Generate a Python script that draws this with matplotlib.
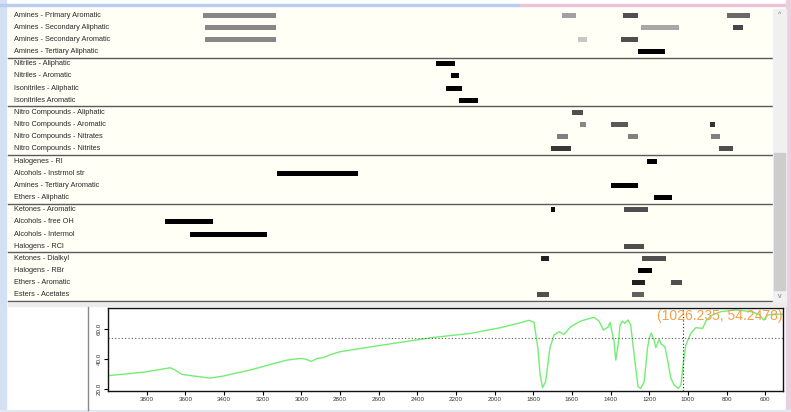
import matplotlib
matplotlib.use("Agg")
import matplotlib.pyplot as plt
from matplotlib.patches import Rectangle
from matplotlib.transforms import blended_transform_factory

plt.rcParams['font.family'] = ['Liberation Sans', 'DejaVu Sans']

# row labels of the correlation table (4 per group)
row_labels = [
    "Amines - Primary Aromatic", "Amines - Secondary Aliphatic",
    "Amines - Secondary Aromatic", "Amines - Tertiary Aliphatic",
    "Nitriles - Aliphatic", "Nitriles - Aromatic",
    "Isonitriles - Aliphatic", "Isonitriles Aromatic",
    "Nitro Compounds - Aliphatic", "Nitro Compounds - Aromatic",
    "Nitro Compounds - Nitrates", "Nitro Compounds - Nitrites",
    "Halogenes - RI", "Alcohols - Instrmol str",
    "Amines - Tertiary Aromatic", "Ethers - Aliphatic",
    "Ketones - Aromatic", "Alcohols - free OH",
    "Alcohols - Intermol", "Halogens - RCl",
    "Ketones - Dialkyl", "Halogens - RBr",
    "Ethers - Aromatic", "Esters - Acetates",
]

# band ranges (cm-1) per row, with strength (0 weak .. 1 strong)
bar_row = [0, 0, 0, 0, 1, 1, 1, 2, 2, 2, 3, 4, 5, 6, 7, 8, 9, 9, 9,
           10, 10, 10, 11, 11, 12, 13, 14, 15, 16, 16, 17, 18, 19,
           20, 20, 21, 22, 22, 23, 23]
bar_hi = [3510, 1650, 1330, 795, 3500, 1240, 760, 3500, 1565, 1340, 1255,
          2300, 2225, 2250, 2180, 1595, 1555, 1395, 880,
          1675, 1305, 875, 1705, 835, 1205, 3125, 1395, 1170, 1705, 1325,
          3705, 3575, 1325, 1755, 1235, 1255, 1285, 1085, 1775, 1285]
bar_lo = [3130, 1575, 1255, 675, 3130, 1040, 710, 3130, 1520, 1255, 1115,
          2200, 2180, 2165, 2085, 1540, 1525, 1305, 855,
          1615, 1255, 830, 1600, 760, 1155, 2705, 1255, 1080, 1685, 1200,
          3455, 3175, 1225, 1715, 1110, 1180, 1220, 1025, 1715, 1225]
bar_strength = [0.47, 0.37, 0.69, 0.59, 0.47, 0.34, 0.72, 0.47, 0.22, 0.69,
                1.0, 1.0, 1.0, 1.0, 1.0, 0.69, 0.47, 0.65, 0.8,
                0.5, 0.5, 0.5, 0.78, 0.69, 1.0, 1.0, 1.0, 1.0, 0.95, 0.69,
                1.0, 1.0, 0.69, 0.87, 0.69, 1.0, 0.87, 0.69, 0.69, 0.62]

# IR spectrum (wavenumber, %T)
spec_wn = [4000, 3812, 3696, 3679, 3653, 3618, 3558, 3472, 3402, 3264, 3144,
           3074, 3005, 2979, 2948, 2919, 2888, 2850, 2798, 2556, 2315, 2124,
           1969, 1865, 1822, 1796, 1776, 1765, 1752, 1736, 1725, 1714, 1693,
           1667, 1641, 1606, 1555, 1486, 1460, 1437, 1413, 1403, 1382, 1373,
           1361, 1351, 1339, 1327, 1310, 1296, 1278, 1258, 1244, 1226, 1209,
           1200, 1190, 1175, 1166, 1149, 1137, 1119, 1105, 1088, 1071, 1050,
           1036, 1027, 1011, 985, 959, 924, 907, 881, 829, 751, 674, 631,
           608, 588, 553, 502]
spec_t = [28.9, 31.3, 33.8, 34.2, 32.7, 29.8, 28.7, 27.3, 28.7, 32.7, 36.9,
          39.3, 40.4, 40.0, 38.4, 40.4, 40.9, 42.9, 44.9, 49.8, 54.4, 57.1,
          60.9, 64.2, 65.8, 64.4, 47.1, 30.0, 20.9, 25.0, 36.0, 47.1, 56.0,
          58.2, 56.4, 61.6, 65.3, 67.8, 65.3, 59.3, 61.3, 64.4, 51.6, 39.3,
          49.3, 62.7, 65.3, 63.8, 66.0, 62.7, 42.7, 21.6, 20.4, 24.9, 47.1,
          53.8, 57.3, 52.7, 47.6, 53.1, 49.8, 48.2, 39.3, 27.1, 22.7, 20.4,
          22.7, 33.8, 49.3, 57.1, 60.9, 60.4, 65.3, 68.9, 71.6, 72.7, 71.6,
          69.8, 66.0, 69.3, 69.8, 69.8]

cursor_wn = 1026.235
cursor_t = 54.2478

W, H = 791, 412
fig = plt.figure(figsize=(W / 100, H / 100), dpi=100, facecolor='white')


def box(x0, y0, x1, y1):
    # pixel box -> figure fraction rect
    return [x0 / W, 1 - y1 / H, (x1 - x0) / W, (y1 - y0) / H]


# window frame
fig.patches.append(Rectangle((0, 0), 6 / W, 1, transform=fig.transFigure,
                             color='#d4e0f4', zorder=0))
fig.patches.append(Rectangle((0, 1 - 6 / H), 520 / W, 2 / H, transform=fig.transFigure,
                             color='#b8cdf0', zorder=0))
fig.patches.append(Rectangle((520 / W, 1 - 6 / H), 271 / W, 2 / H, transform=fig.transFigure,
                             color='#ecc4d4', zorder=0))
fig.patches.append(Rectangle((786 / W, 0), 5 / W, 1, transform=fig.transFigure,
                             color='#ead0de', zorder=0))
fig.patches.append(Rectangle((0, 0), 1, 2 / H, transform=fig.transFigure,
                             color='#e4e8f0', zorder=0))

# ---- upper table panel ----
ax = fig.add_axes(box(8, 9, 772, 301))
ax.set_facecolor('#fffff6')
ax.set_xlim(4518, 560)
ax.set_ylim(24, 0)
for s in ax.spines.values():
    s.set_visible(False)
ax.set_xticks([])
ax.set_yticks([])

trans = blended_transform_factory(ax.transAxes, ax.transData)
for i, lab in enumerate(row_labels):
    ax.text(6 / 764, i + 0.5, lab, transform=trans, fontsize=5.3,
            color='#2a2a2a', va='center', ha='left')

for r, hi, lo, st in zip(bar_row, bar_hi, bar_lo, bar_strength):
    ax.barh(r + 0.5, hi - lo, left=lo, height=0.42, color=str(round(1 - st, 2)),
            edgecolor='none')

for g in range(4, 25, 4):
    ax.axhline(g, color='#5a5a5a', lw=1.0, clip_on=False)

# scrollbar
fig.patches.append(Rectangle(box(773, 9, 786, 303)[:2], 13 / W, 294 / H,
                             transform=fig.transFigure, color='#f0f0f0', zorder=1))
fig.patches.append(Rectangle(box(774, 153, 785, 290)[:2], 11 / W, 137 / H,
                             transform=fig.transFigure, color='#cdcdcd', zorder=2))
fig.text(779.5 / W, 1 - 15 / H, '^', fontsize=5, color='#777', ha='center', va='center')
fig.text(779.5 / W, 1 - 297 / H, 'v', fontsize=5, color='#777', ha='center', va='center')

# separator between panels
fig.patches.append(Rectangle(box(8, 303, 786, 306)[:2], 778 / W, 3 / H,
                             transform=fig.transFigure, color='#ececec', zorder=1))
fig.lines.append(plt.Line2D([88 / W, 88 / W], [1 - 410 / H, 1 - 307 / H],
                            transform=fig.transFigure, color='#888888', lw=1.0))

# ---- lower spectrum panel ----
ax2 = fig.add_axes(box(108, 308, 783, 391))
ax2.plot(spec_wn, spec_t, color='#72ee72', lw=1.0)
ax2.set_xlim(4000, 508)
ax2.set_ylim(18.7, 74)
ax2.axhline(cursor_t, color='#555555', lw=0.8, ls=(0, (1, 2)))
ax2.axvline(cursor_wn, color='#222222', lw=0.8, ls=(0, (1, 2)))
ax2.text(0.999, 0.985, f"({cursor_wn}, {cursor_t})", transform=ax2.transAxes,
         ha='right', va='top', fontsize=10, color='#f6a048')

ax2.set_xticks(range(3800, 500, -200))
ax2.set_yticks([20, 40, 60])
ax2.set_yticklabels(['20.0', '40.0', '60.0'], rotation=90, va='center')
ax2.tick_params(axis='both', labelsize=4.5, labelcolor='#333333', length=3,
                width=0.8, pad=1.5)
for s in ax2.spines.values():
    s.set_color('#111111')
    s.set_linewidth(1.0)

fig.savefig('out.png', dpi=100, facecolor=fig.get_facecolor())
